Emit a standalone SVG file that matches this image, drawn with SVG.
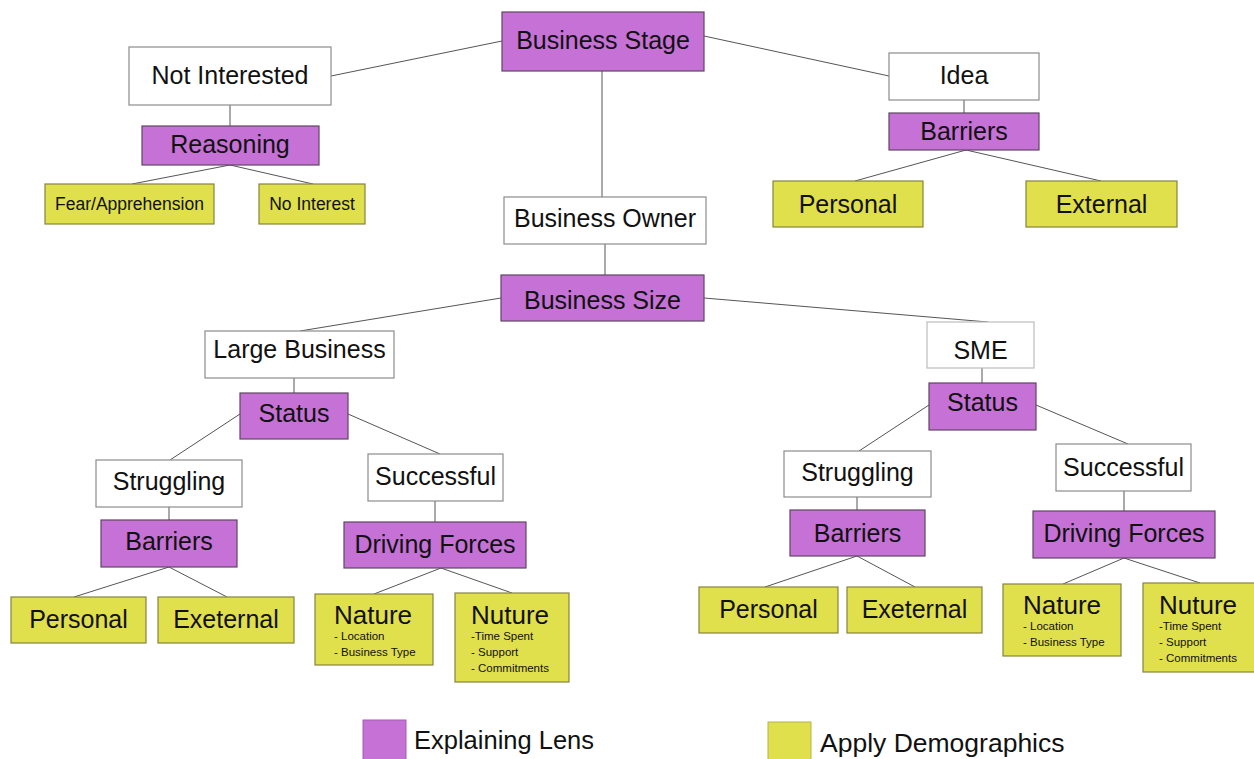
<svg xmlns="http://www.w3.org/2000/svg" width="1254" height="759" viewBox="0 0 1254 759">
  <style>
    .lens { fill: #c571d5; stroke: #5e4663; stroke-width: 1.2; }
    .demo { fill: #e0df4c; stroke: #85843f; stroke-width: 1.2; }
    .plain { fill: #ffffff; stroke: #8c8c8c; stroke-width: 1.2; }
    .edge { stroke: #555555; stroke-width: 1; fill: none; }
    text { font-family: "Liberation Sans", Arial, sans-serif; fill: #111111; }
    .t { font-size: 25px; text-anchor: middle; }
    .s { font-size: 17.5px; text-anchor: middle; }
    .h { font-size: 26px; }
    .li { font-size: 11.5px; }
    .leg { font-size: 25.5px; }
  </style>
  <rect width="1254" height="759" fill="#ffffff"/>

  <!-- connectors -->
  <g id="connectors" class="edge">
    <line x1="331" y1="76" x2="502" y2="41"/>
    <line x1="704" y1="36" x2="889" y2="76"/>
    <line x1="602" y1="71" x2="602" y2="197"/>
    <line x1="230" y1="105" x2="230" y2="126"/>
    <line x1="230" y1="165" x2="132" y2="184"/>
    <line x1="230" y1="165" x2="313" y2="184"/>
    <line x1="964" y1="100" x2="964" y2="113"/>
    <line x1="966" y1="150" x2="855" y2="181"/>
    <line x1="966" y1="150" x2="1101" y2="181"/>
    <line x1="605" y1="244" x2="605" y2="275"/>
    <line x1="501" y1="298" x2="300" y2="331"/>
    <line x1="704" y1="298" x2="988" y2="322"/>
    <line x1="294" y1="378" x2="294" y2="393"/>
    <line x1="240" y1="414" x2="170" y2="460"/>
    <line x1="348" y1="414" x2="440" y2="454"/>
    <line x1="169" y1="507" x2="169" y2="520"/>
    <line x1="435" y1="501" x2="435" y2="522"/>
    <line x1="169" y1="567" x2="74" y2="597"/>
    <line x1="169" y1="567" x2="227" y2="597"/>
    <line x1="441" y1="568" x2="374" y2="594"/>
    <line x1="441" y1="568" x2="512" y2="593"/>
    <line x1="982" y1="368" x2="982" y2="383"/>
    <line x1="929" y1="405" x2="859" y2="451"/>
    <line x1="1036" y1="405" x2="1128" y2="444"/>
    <line x1="857" y1="497" x2="857" y2="510"/>
    <line x1="1124" y1="491" x2="1124" y2="511"/>
    <line x1="857" y1="556" x2="765" y2="587"/>
    <line x1="857" y1="556" x2="915" y2="587"/>
    <line x1="1124" y1="558" x2="1063" y2="584"/>
    <line x1="1124" y1="558" x2="1200" y2="583"/>
  </g>

  <!-- top level -->
  <g id="business-stage">
    <rect class="lens" x="502" y="12" width="202" height="59"/>
    <text class="t" x="603" y="49">Business Stage</text>
  </g>

  <!-- not interested branch -->
  <g id="not-interested">
    <rect class="plain" x="129" y="47" width="202" height="58"/>
    <text class="t" x="230" y="84">Not Interested</text>
  </g>
  <g id="reasoning">
    <rect class="lens" x="142" y="126" width="177" height="39"/>
    <text class="t" x="230" y="153">Reasoning</text>
  </g>
  <g id="fear">
    <rect class="demo" x="45" y="184" width="169" height="40"/>
    <text class="s" x="129.5" y="210">Fear/Apprehension</text>
  </g>
  <g id="no-interest">
    <rect class="demo" x="259" y="184" width="106" height="40"/>
    <text class="s" x="312" y="210">No Interest</text>
  </g>

  <!-- idea branch -->
  <g id="idea">
    <rect class="plain" x="889" y="53" width="150" height="47"/>
    <text class="t" x="964" y="84">Idea</text>
  </g>
  <g id="idea-barriers">
    <rect class="lens" x="889" y="113" width="150" height="37"/>
    <text class="t" x="964" y="140">Barriers</text>
  </g>
  <g id="idea-personal">
    <rect class="demo" x="773" y="181" width="150" height="46"/>
    <text class="t" x="848" y="213">Personal</text>
  </g>
  <g id="idea-external">
    <rect class="demo" x="1026" y="181" width="151" height="46"/>
    <text class="t" x="1101.5" y="213">External</text>
  </g>

  <!-- business owner branch -->
  <g id="business-owner">
    <rect class="plain" x="504" y="197" width="202" height="47"/>
    <text class="t" x="605" y="227">Business Owner</text>
  </g>
  <g id="business-size">
    <rect class="lens" x="501" y="275" width="203" height="46"/>
    <text class="t" x="602.5" y="309">Business Size</text>
  </g>

  <!-- large business -->
  <g id="large-business">
    <rect class="plain" x="205" y="331" width="189" height="47"/>
    <text class="t" x="299.5" y="358">Large Business</text>
  </g>
  <g id="large-status">
    <rect class="lens" x="240" y="393" width="108" height="46"/>
    <text class="t" x="294" y="422">Status</text>
  </g>
  <g id="large-struggling">
    <rect class="plain" x="96" y="460" width="146" height="47"/>
    <text class="t" x="169" y="490">Struggling</text>
  </g>
  <g id="large-successful">
    <rect class="plain" x="368" y="454" width="135" height="47"/>
    <text class="t" x="435.5" y="485">Successful</text>
  </g>
  <g id="large-barriers">
    <rect class="lens" x="101" y="520" width="136" height="47"/>
    <text class="t" x="169" y="550">Barriers</text>
  </g>
  <g id="large-driving-forces">
    <rect class="lens" x="344" y="522" width="182" height="46"/>
    <text class="t" x="435" y="553">Driving Forces</text>
  </g>
  <g id="large-personal">
    <rect class="demo" x="11" y="597" width="135" height="46"/>
    <text class="t" x="78.5" y="628">Personal</text>
  </g>
  <g id="large-external">
    <rect class="demo" x="158" y="597" width="136" height="46"/>
    <text class="t" x="226" y="628">Exeternal</text>
  </g>
  <g id="large-nature">
    <rect class="demo" x="315" y="594" width="118" height="71"/>
    <text class="h" x="334" y="624">Nature</text>
    <text class="li" x="334" y="640">- Location</text>
    <text class="li" x="334" y="656">- Business Type</text>
  </g>
  <g id="large-nurture">
    <rect class="demo" x="455" y="593" width="114" height="89"/>
    <text class="h" x="471" y="624">Nuture</text>
    <text class="li" x="471" y="640">-Time Spent</text>
    <text class="li" x="471" y="656">- Support</text>
    <text class="li" x="471" y="672">- Commitments</text>
  </g>

  <!-- SME -->
  <g id="sme">
    <rect x="927" y="322" width="107" height="46" fill="#ffffff" stroke="#bdbdbd" stroke-width="1.2"/>
    <text class="t" x="980.5" y="359">SME</text>
  </g>
  <g id="sme-status">
    <rect class="lens" x="929" y="383" width="107" height="47"/>
    <text class="t" x="982.5" y="411">Status</text>
  </g>
  <g id="sme-struggling">
    <rect class="plain" x="784" y="451" width="147" height="46"/>
    <text class="t" x="857.5" y="481">Struggling</text>
  </g>
  <g id="sme-successful">
    <rect class="plain" x="1056" y="444" width="135" height="47"/>
    <text class="t" x="1123.5" y="476">Successful</text>
  </g>
  <g id="sme-barriers">
    <rect class="lens" x="790" y="510" width="135" height="46"/>
    <text class="t" x="857.5" y="542">Barriers</text>
  </g>
  <g id="sme-driving-forces">
    <rect class="lens" x="1033" y="511" width="182" height="47"/>
    <text class="t" x="1124" y="542">Driving Forces</text>
  </g>
  <g id="sme-personal">
    <rect class="demo" x="699" y="587" width="139" height="46"/>
    <text class="t" x="768.5" y="618">Personal</text>
  </g>
  <g id="sme-external">
    <rect class="demo" x="847" y="587" width="135" height="46"/>
    <text class="t" x="914.5" y="618">Exeternal</text>
  </g>
  <g id="sme-nature">
    <rect class="demo" x="1003" y="584" width="118" height="72"/>
    <text class="h" x="1023" y="614">Nature</text>
    <text class="li" x="1023" y="630">- Location</text>
    <text class="li" x="1023" y="646">- Business Type</text>
  </g>
  <g id="sme-nurture">
    <rect class="demo" x="1143" y="583" width="115" height="89"/>
    <text class="h" x="1159" y="614">Nuture</text>
    <text class="li" x="1159" y="630">-Time Spent</text>
    <text class="li" x="1159" y="646">- Support</text>
    <text class="li" x="1159" y="662">- Commitments</text>
  </g>

  <!-- legend -->
  <g id="legend">
    <rect x="363" y="720" width="43" height="42" fill="#c571d5" stroke="#a35fb0" stroke-width="1"/>
    <text class="leg" x="414" y="749">Explaining Lens</text>
    <rect x="768" y="722" width="43" height="40" fill="#e0df4c" stroke="#b5b44a" stroke-width="1"/>
    <text class="leg" x="820" y="752" style="font-size:26.5px">Apply Demographics</text>
  </g>
</svg>
